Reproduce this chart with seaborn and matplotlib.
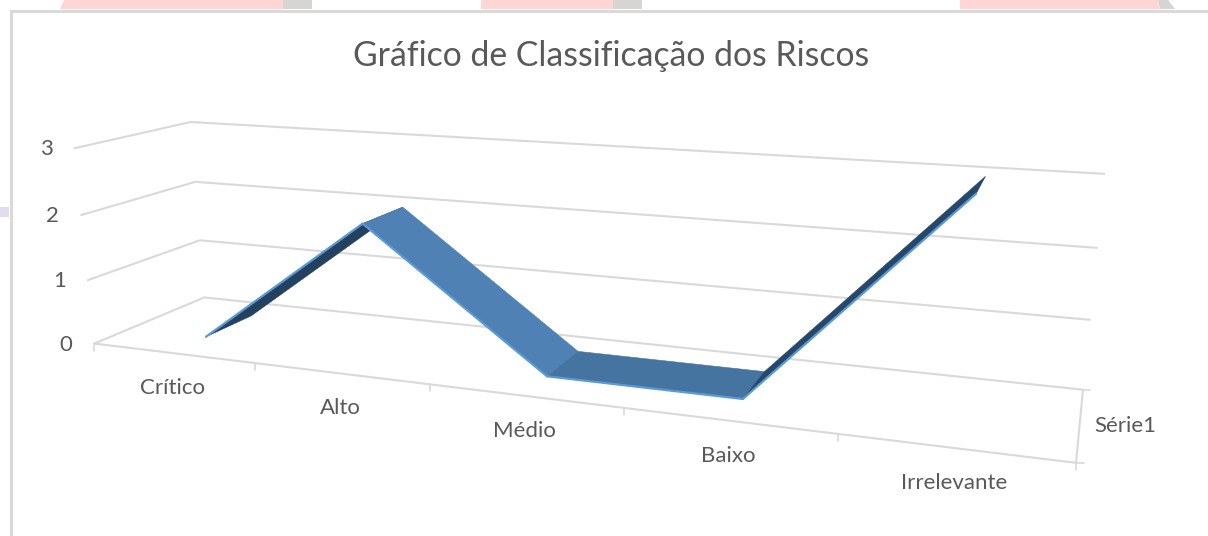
import numpy as np
import pandas as pd
import matplotlib
matplotlib.use("Agg")
import matplotlib.pyplot as plt
from matplotlib.patches import Polygon, Rectangle
import seaborn as sns

# ---- data ----
categories = ["Crítico", "Alto", "Médio", "Baixo", "Irrelevante"]
values = [0, 2, 0, 0, 3]
series_name = "Série1"
value_ticks = [0, 1, 2, 3]
title = "Gráfico de Classificação dos Riscos"

# ---- 3D camera calibration: (category pos, depth, value) -> pixel ----
W, H = 1208, 536
world = [(0,0,0),(0,0,1),(0,0,2),(0,0,3),(0,1,0),(0,1,1),(0,1,2),(0,1,3),
         (5,1,0),(5,1,1),(5,1,2),(5,1,3),(5,0,0),(1,0,0),(2,0,0),(3,0,0),(4,0,0)]
screen = [(95,344),(87,280),(82,215),(74,148),(204,297.7),(200,240),(195,182),(191,122),
          (1083,389),(1090,320),(1097,248),(1104,174),(1076,463),(255,363),(430,384),(624,408),(838,434)]
A = []
for (x, d, z), (u, v) in zip(world, screen):
    A.append([x, d, z, 1, 0, 0, 0, 0, -u*x, -u*d, -u*z, -u])
    A.append([0, 0, 0, 0, x, d, z, 1, -v*x, -v*d, -v*z, -v])
P = np.linalg.svd(np.array(A, float))[2][-1].reshape(3, 4)

def project(x, d, z):
    h = P @ np.array([x, d, z, 1.0])
    return h[0] / h[2], h[1] / h[2]

# ---- style ----
sns.set_theme(style="white")
plt.rcParams["font.family"] = ["Lato", "DejaVu Sans"]
GRID = "#d9d9d9"
TEXT = "#595959"
EDGE = "#5b9bd5"
D_FRONT, D_BACK = 0.31, 0.75

fig = plt.figure(figsize=(W / 100, H / 100), dpi=100)
ax = fig.add_axes([0, 0, 1, 1])
ax.set_xlim(0, W)
ax.set_ylim(H, 0)
ax.axis("off")

# page behind the chart
for pts, c in [([(64, 0), (283, 0), (283, 9), (60, 9)], "#ffd6d3"),
               ([(283, 0), (312, 0), (312, 9), (283, 9)], "#d6d5d3"),
               ([(481, 0), (613, 0), (613, 9), (481, 9)], "#ffd6d3"),
               ([(613, 0), (642, 0), (642, 9), (613, 9)], "#d6d5d3"),
               ([(960, 0), (1158, 0), (1160, 9), (960, 9)], "#ffd6d3"),
               ([(1158, 0), (1168, 0), (1175, 9), (1160, 9)], "#d6d5d3")]:
    ax.add_patch(Polygon(pts, closed=True, fc=c, ec="none"))
ax.add_patch(Rectangle((0, 207), 9, 10, fc="#e4dcec", ec="none"))
ax.plot([10.5, 10.5, W], [H, 10.5, 10.5], color=GRID, lw=2.2, solid_joinstyle="miter")

def line(pts, color=GRID, lw=1.5):
    df = pd.DataFrame(pts, columns=["x", "y"])
    sns.lineplot(data=df, x="x", y="y", sort=False, estimator=None, color=color,
                 linewidth=lw, ax=ax, legend=False)

n = len(categories)
# walls
for z in value_ticks:
    line([project(0, 0, z), project(0, 1, z), project(n, 1, z)])
# floor front & depth axis
line([project(0, 0, 0), project(n, 0, 0), project(n, 1, 0)])
for i in range(n + 1):
    u, v = project(i, 0, 0)
    line([(u, v), (u, v + 7)], lw=1.2)
u, v = project(n, 0, 0); line([(u, v), (u + 8, v)], lw=1.2)
u, v = project(n, 1, 0); line([(u, v), (u + 7, v)], lw=1.2)

# ribbon
xs = np.arange(n) + 0.49
seg_colors = ["#24425f", "#4f81b4", "#4674a0", "#27476a"]
for i in range(n - 1):
    poly = [project(xs[i], D_FRONT, values[i]), project(xs[i + 1], D_FRONT, values[i + 1]),
            project(xs[i + 1], D_BACK, values[i + 1]), project(xs[i], D_BACK, values[i])]
    ax.add_patch(Polygon(poly, closed=True, fc=seg_colors[i], ec=seg_colors[i], lw=0.4, zorder=5 + i))
    line([poly[0], poly[1]], color=EDGE, lw=1.6)
    ax.lines[-1].set_zorder(5.5 + i)

# text
ax.text(611, 56, title, ha="center", va="center", fontsize=24.3, color=TEXT)
for z in value_ticks:
    u, v = project(0, 0, z)
    ax.text(u - 22, v + 1, str(z), ha="right", va="center", fontsize=16, color=TEXT)
for i, c in enumerate(categories):
    u, v = project(i + 0.5, 0, 0)
    ax.text(u, v + 35, c, ha="center", va="center", fontsize=16, color=TEXT)
u, v = project(n, 0.5, 0)
ax.text(u + 15, v + 2, series_name, ha="left", va="center", fontsize=16, color=TEXT)

fig.savefig("out.png", dpi=100)
